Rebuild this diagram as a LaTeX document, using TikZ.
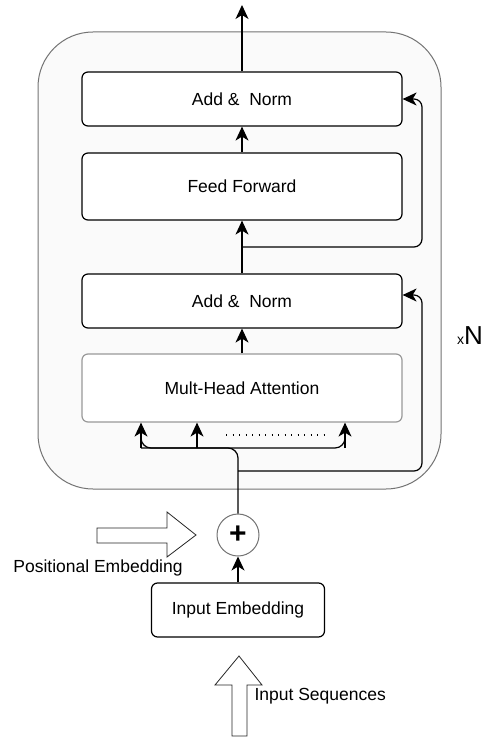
\documentclass[tikz,border=0pt]{standalone}
\usepackage{fontspec}
\setmainfont{Liberation Sans}
\usetikzlibrary{arrows.meta}

\tikzset{
    block/.style={draw, rounded corners=6pt, fill=white, minimum width=320pt, line width=1.2pt, font=\fontsize{17.5}{21}\selectfont},
    arr/.style={-{Stealth[length=14pt,width=13pt,inset=4pt]}, line width=1.2pt},
    fat/.style={draw=black!85, fill=white, line width=0.8pt},
    lbl/.style={font=\fontsize{17.5}{21}\selectfont}
}

\begin{document}
\begin{tikzpicture}[x=1pt,y=-1pt]
    \useasboundingbox (0,0) rectangle (482,738);
    \draw[black!55, fill=black!2, line width=1pt, rounded corners=55pt] (38,32) rectangle (441,489);
    \node (addtop) at (242,99)[block, minimum height=54pt]{Add \&\ \ Norm};
    \node (ff) at (242,186.5)[block, minimum height=67pt]{Feed Forward};
    \node (addbot) at (242,301)[block, minimum height=54pt]{Add \&\ \ Norm};
    \node (mha) at (242,388)[block, draw=black!40, minimum height=68pt]{Mult-Head Attention};
    \node (plus) at (238,535)[circle, draw=black!55, fill=white, minimum size=42pt, inner sep=0pt, line width=1pt]{\fontsize{30}{30}\selectfont\bfseries +};
    \node (emb) at (238,610)[block, minimum width=173pt, minimum height=54pt]{Input Embedding};
    \coordinate (out) at (242,5);
    \coordinate (r1) at (242,247);
    \coordinate (r2) at (238,471);
    \coordinate (split) at (238,448);
    \draw[arr] (addtop.north) -- (out);
    \draw[arr] (ff.north) -- (addtop.south);
    \draw[arr] (addbot.north) -- (ff.south);
    \draw[arr] (mha.north) -- (addbot.south);
    \draw[arr, rounded corners=8pt] (r1) -- (422,247) -- (422,99) -- (addtop.east);
    \draw[arr, rounded corners=8pt] (r2) -- (422,471) -- (422,295) -- ([yshift=6pt]addbot.east);
    \draw[line width=1.2pt, rounded corners=10pt] (plus.north) -- (split) -- (141,448);
    \draw[line width=1.2pt, rounded corners=10pt] (141,436) -- (141,448) -- (345,448) -- (345,436);
    \foreach \x in {141,197,345}{
    \draw[arr](\x,448) -- (\x,448 |- mha.south);
    }
    \draw[line width=1.2pt, dash pattern=on 1.2pt off 5.3pt] (226,435) -- (325,435);
    \draw[arr] (emb.north) -- (plus.south);
    \draw[fat] (97,528) -- (167,528) -- (167,512) -- (196,535) -- (167,557) -- (167,543) -- (97,543) -- cycle;
    \draw[fat] (232,736) -- (232,685) -- (215,685) -- (239,656) -- (262,685) -- (247,685) -- (247,736) -- cycle;
    \node (pos) at (98,568)[lbl]{Positional Embedding};
    \node (seq) at (251,696)[lbl, anchor=west]{Input Sequences};
    \node (rep) at (457,344)[anchor=base west, inner sep=0pt]{{\fontsize{14}{14}\selectfont x}{\fontsize{26}{26}\selectfont N}};
\end{tikzpicture}
\end{document}
